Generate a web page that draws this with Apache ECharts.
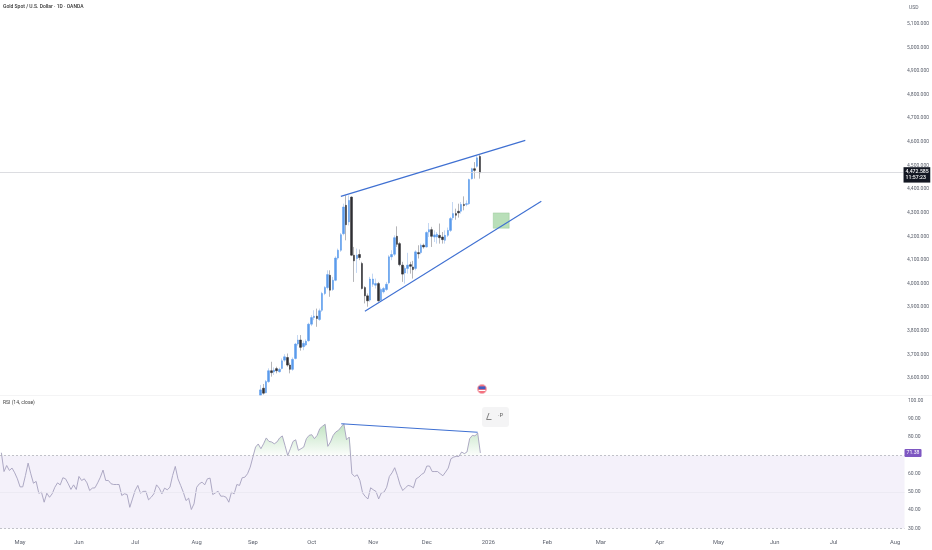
<!DOCTYPE html>
<html><head><meta charset="utf-8">
<style>html,body{margin:0;padding:0;background:#fff}#c{width:932px;height:550px}</style>
<script src="https://cdn.jsdelivr.net/npm/echarts@6/dist/echarts.min.js"></script>
</head><body><div id="c"></div>
<script>
const axisStart='2025-04-22';
const axisBars=338;
const firstCandle=97;
const opens=[3528,3557,3538,3585,3631,3626,3640,3627,3641,3676,3687,3655,3637,3683,3744,3761,3733,3740,3758,3828,3856,3862,3848,3887,3958,3983,4035,3975,4014,4108,4141,4211,4331,4261,4366,4120,4106,4123,4085,
3983,3948,3930,3997,3993,4000,3930,3965,3975,4003,4113,4124,4200,4169,4078,4045,4064,4080,4070,4064,4131,4131,4162,4155,4218,4228,4197,4197,4204,4197,4183,4204,4225,4279,4296,4306,4306,4335,4335,4338,4444,4486,4496,4538];
const closes=[3550,3536,3585,3631,3623,3634,3631,3637,3673,3690,3655,3637,3679,3744,3761,3730,3747,3756,3828,3856,3862,3852,3885,3958,3983,4038,3972,4014,4108,4141,4207,4324,4249,4352,4120,4096,4120,4110,3979,
3948,3927,4019,4019,4000,3927,3975,3979,3997,4113,4123,4194,4166,4080,4040,4064,4078,4073,4059,4134,4126,4162,4155,4216,4228,4200,4206,4209,4194,4186,4204,4225,4275,4296,4289,4299,4335,4330,4338,4440,4486,4479,4532,4469];
const lows=[3530,3530,3536,3580,3606,3613,3620,3623,3637,3669,3648,3620,3631,3679,3737,3716,3718,3735,3754,3820,3845,3817,3842,3880,3951,3975,3944,3969,4010,4101,4134,4204,4183,4246,4116,4007,4045,4099,3975,
3916,3902,3923,3986,3979,3923,3923,3958,3969,3997,4099,4116,4155,4073,4007,4000,4042,4042,4021,4056,4106,4124,4148,4152,4197,4155,4176,4169,4169,4169,4169,4197,4218,4268,4270,4279,4296,4310,4327,4333,4440,4444,4490,4444];
const highs=[3571,3575,3592,3641,3669,3645,3648,3644,3683,3701,3704,3665,3687,3749,3782,3782,3758,3764,3834,3866,3887,3894,3894,3965,3989,4056,4056,4028,4115,4148,4214,4338,4373,4373,4369,4155,4148,4144,4092,
3989,3958,4028,4042,4021,4007,3983,3986,4007,4120,4141,4204,4242,4176,4092,4073,4130,4092,4096,4141,4162,4169,4169,4221,4256,4240,4225,4218,4254,4218,4225,4237,4282,4345,4317,4338,4345,4369,4352,4444,4490,4514,4541,4546];
const rsiValues=[71.5,61.2,64.5,61.8,63.1,60.5,57.2,52.8,52.8,59.0,
65.8,60.0,54.8,55.8,49.3,49.9,44.4,49.3,47.1,49.0,
52.6,55.0,53.9,57.8,57.2,54.5,51.4,53.9,51.4,58.5,
56.3,57.2,55.0,50.8,52.1,52.3,55.0,58.1,62.0,56.3,
56.3,54.5,54.1,54.1,54.1,48.1,49.0,48.6,41.6,46.2,
50.8,53.6,49.3,50.3,50.4,45.7,47.1,49.0,53.9,52.1,
49.0,52.1,51.2,52.6,59.0,64.0,57.2,53.6,49.9,45.3,
46.6,40.4,43.5,52.6,54.5,55.4,53.9,57.2,57.6,48.6,
49.5,50.4,47.7,47.7,47.1,44.4,49.9,49.0,54.1,53.6,
57.8,58.1,60.0,63.6,69.1,74.6,76.3,73.7,76.4,79.6,77.7,77.4,76.4,77.4,79.6,80.7,75.5,70.0,73.7,77.7,78.6,72.8,73.7,74.6,79.2,81.0,81.4,79.2,81.0,84.7,86.0,87.1,75.0,77.4,81.0,82.9,83.8,85.6,87.4,78.6,80.1,
60.0,58.5,59.4,56.3,49.5,47.5,46.2,52.3,51.2,50.3,46.2,49.5,49.9,52.6,58.5,60.5,63.3,59.0,53.9,50.8,52.3,53.6,53.2,52.3,57.2,58.1,59.6,60.5,64.2,64.2,61.2,61.2,61.2,60.0,58.9,60.9,63.1,68.2,69.1,69.5,69.5,71.9,71.0,71.9,79.2,81.0,80.7,82.3,71.38];
const upperTrend=[[127,4369],[196,4606]];
const lowerTrend=[[136,3883],[202,4348]];
const rsiTrend=[[127,87.4],[178,82.7]];
const zoneIdx=[184,190];
const zonePrice=[4299,4234];
const lastPrice=4472.585, lastRsi=71.38;
const monthNames=['Jan','Feb','Mar','Apr','May','Jun','Jul','Aug','Sep','Oct','Nov','Dec'];

const categories=[];
for(let d=new Date(axisStart+'T00:00:00Z');categories.length<axisBars;d=new Date(d.getTime()+864e5)){
  const w=d.getUTCDay(); if(w!==0&&w!==6) categories.push(d.toISOString().slice(0,10));
}
const isFirst=i=>i>0&&categories[i].slice(0,7)!==categories[i-1].slice(0,7);
const blank=['-','-','-','-'];
const wickData=categories.map((_,i)=>{const k=i-firstCandle;return k>=0&&k<opens.length?[opens[k],closes[k],lows[k],highs[k]]:blank;});
const bodyData=categories.map((_,i)=>{const k=i-firstCandle;return k>=0&&k<opens.length?[opens[k],closes[k],Math.min(opens[k],closes[k]),Math.max(opens[k],closes[k])]:blank;});
const rsiOver=rsiValues.map(v=>Math.max(v,70));

const FONT='Roboto, "Liberation Sans", sans-serif';
const LBL='#5d626e', BLUE='#3f70d2';
const GRID_W=904.5;
const chart=echarts.init(document.getElementById('c'),null,{renderer:'canvas'});
chart.setOption({
 animation:false,backgroundColor:'#fff',
 title:[
  {text:'Gold Spot / U.S. Dollar · 1D · OANDA',left:3,top:4.5,padding:0,textStyle:{fontFamily:FONT,fontSize:5,fontWeight:500,color:'#333'}},
  {text:'RSI (14, close)',left:3,top:400.5,padding:0,textStyle:{fontFamily:FONT,fontSize:5,fontWeight:400,color:'#444'}},
  {text:'USD',left:909,top:5.5,padding:0,textStyle:{fontFamily:FONT,fontSize:5,fontWeight:400,color:LBL}}
 ],
 grid:[
  {left:0,top:-0.7,width:GRID_W,height:402.4},
  {left:0,top:400.7,width:GRID_W,height:127.8}
 ],
 xAxis:[
  {type:'category',gridIndex:0,data:categories,show:false,boundaryGap:true},
  {type:'category',gridIndex:1,data:categories,boundaryGap:true,
   axisLine:{show:false},axisTick:{show:false},splitLine:{show:false},
   axisLabel:{interval:(i)=>isFirst(i),margin:11,hideOverlap:false,fontFamily:FONT,fontSize:5.8,color:LBL,
    formatter:v=>{const m=+v.slice(5,7)-1;return m===0?v.slice(0,4):monthNames[m];}}}
 ],
 yAxis:[
  {type:'value',gridIndex:0,position:'right',min:3500,max:5200,interval:100,
   axisLine:{show:false},axisTick:{show:false},splitLine:{show:false},
   axisLabel:{margin:3.5,showMinLabel:false,showMaxLabel:false,fontFamily:FONT,fontSize:5,color:LBL,
    formatter:v=>v.toLocaleString('en-US',{minimumFractionDigits:3})}},
  {type:'value',gridIndex:1,position:'right',min:30,max:100,interval:10,
   axisLine:{show:false},axisTick:{show:false},splitLine:{show:false},
   axisLabel:{margin:3.5,fontFamily:FONT,fontSize:5,color:LBL,formatter:v=>v===70?'':v.toFixed(2)}}
 ],
 series:[
  {type:'candlestick',name:'wick',xAxisIndex:0,yAxisIndex:0,data:wickData,barWidth:1,z:2,
   itemStyle:{color:'#c3d7f3',color0:'#b5b5b8',borderColor:'#c3d7f3',borderColor0:'#b5b5b8',borderWidth:1},
   markLine:{silent:true,symbol:'none',animation:false,
    data:[{yAxis:lastPrice}],
    lineStyle:{color:'#d3d4d9',type:'solid',width:0.8},
    label:{show:true,position:'end',distance:0,offset:[0,3],
      formatter:()=>lastPrice.toLocaleString('en-US',{minimumFractionDigits:3})+'\n11:57:23',
      color:'#fff',backgroundColor:'#131722',padding:[1.5,1.5,1.5,2],fontFamily:FONT,fontSize:5.2,fontWeight:500,lineHeight:6.2}}},
  {type:'candlestick',name:'body',xAxisIndex:0,yAxisIndex:0,data:bodyData,barWidth:2,z:3,
   itemStyle:{color:'#5a9bec',color0:'#2e2e33',borderColor:'#5a9bec',borderColor0:'#2e2e33',borderWidth:0.5}},
  {type:'line',name:'upper',xAxisIndex:0,yAxisIndex:0,data:upperTrend,showSymbol:false,z:5,lineStyle:{color:BLUE,width:1.1}},
  {type:'line',name:'lower',xAxisIndex:0,yAxisIndex:0,data:lowerTrend,showSymbol:false,z:5,lineStyle:{color:BLUE,width:1.1},
   markArea:{silent:true,z:1,itemStyle:{color:'rgba(128,196,128,0.55)',borderColor:'rgba(110,180,110,0.5)',borderWidth:0.5},
    data:[[{xAxis:zoneIdx[0],yAxis:zonePrice[0]},{xAxis:zoneIdx[1],yAxis:zonePrice[1]}]]}},
  {type:'line',name:'over',xAxisIndex:1,yAxisIndex:1,data:rsiOver,showSymbol:false,z:2,lineStyle:{width:0},
   areaStyle:{origin:70,color:new echarts.graphic.LinearGradient(0,0,0,1,[{offset:0,color:'rgba(76,175,80,0.5)'},{offset:1,color:'rgba(76,175,80,0.03)'}])}},
  {type:'line',name:'rsi',xAxisIndex:1,yAxisIndex:1,data:rsiValues,showSymbol:false,z:3,lineStyle:{color:'#a5a0bd',width:0.9},
   markArea:{silent:true,z:1,itemStyle:{color:'#f4f1fa'},data:[[{yAxis:70},{yAxis:30}]]},
   markLine:{silent:true,symbol:'none',animation:false,
    data:[
     {yAxis:70,lineStyle:{color:'#a9abb3',type:[2,2],width:0.7},label:{show:false}},
     {yAxis:30,lineStyle:{color:'#a9abb3',type:[2,2],width:0.7},label:{show:false}},
     {yAxis:50,lineStyle:{color:'#e8e6ef',type:'solid',width:0.7},label:{show:false}},
     {yAxis:lastRsi,lineStyle:{color:'rgba(0,0,0,0)',width:1},label:{show:true,position:'end',distance:0,formatter:()=>lastRsi.toFixed(2),color:'#fff',backgroundColor:'#7e57c2',padding:[1.5,2,1.5,2],borderRadius:1,fontFamily:FONT,fontSize:5.2}}
    ]}},
  {type:'line',name:'rsiTrend',xAxisIndex:1,yAxisIndex:1,data:rsiTrend,showSymbol:false,z:5,lineStyle:{color:BLUE,width:1.1}}
 ],
 graphic:[
  {type:'rect',z:1,shape:{x:0,y:395,width:932,height:0.7},style:{fill:'#f0f0f2'}},
  {type:'circle',z:10,shape:{cx:482,cy:389,r:4.6},style:{fill:'#f4727f',stroke:'#f2b3bb',lineWidth:0.8}},
  {type:'rect',z:10,shape:{x:478.6,y:386.4,width:6.8,height:2.8},style:{fill:'#3f5fc4'}},
  {type:'rect',z:10,shape:{x:478.6,y:390,width:6.8,height:1},style:{fill:'#fff'}},
  {type:'rect',z:10,shape:{x:482,y:407,width:27,height:20,r:3},style:{fill:'#f4f4f5'}},
  {type:'polyline',z:11,shape:{points:[[489,413],[486.6,419.5],[491.5,419.5]]},style:{stroke:'#666',fill:null,lineWidth:0.8}},
  {type:'text',z:11,style:{x:498,y:412.5,text:'·P',fill:'#666',font:'6px '+FONT}}
 ]
});
</script></body></html>
